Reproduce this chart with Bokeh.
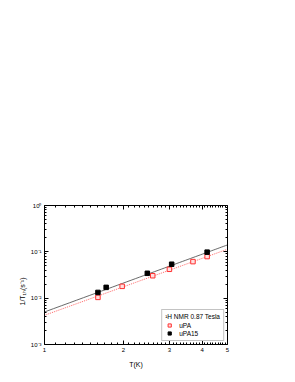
from bokeh.plotting import figure
from bokeh.models import (FixedTicker, LogAxis, CustomJSTickFormatter, Legend, LegendItem,
                          Range1d, Title)
from bokeh.embed import file_html
from bokeh.resources import INLINE
import numpy as np

# data
T_uPA = [1.60, 1.98, 2.59, 3.00, 3.69, 4.18]
R_uPA = [0.0104, 0.0180, 0.0305, 0.042, 0.0615, 0.079]
T_uPA15 = [1.60, 1.72, 2.47, 3.06, 4.18]
R_uPA15 = [0.0133, 0.0171, 0.0344, 0.054, 0.0985]
# power-law fits A*T^n
fit_uPA = (0.00427, 2.04)
fit_uPA15 = (0.00504, 2.07)
x_ticks = [1, 2, 3, 4, 5]
y_ticks = [0.001, 0.01, 0.1, 1]

FONT = "Liberation Sans"

p = figure(width=279, height=374, x_axis_type="log", y_axis_type="log",
           x_range=Range1d(1, 5), y_range=Range1d(0.001, 1),
           output_backend="svg", toolbar_location=None,
           min_border_left=44, min_border_right=52, min_border_top=205, min_border_bottom=30)
p.frame_width = 183
p.frame_height = 139
p.xgrid.visible = False
p.ygrid.visible = False
p.outline_line_color = None
p.background_fill_color = "white"
p.border_fill_color = "white"

minor_x = [round(v, 2) for v in np.arange(1.1, 5.0, 0.1)]
minor_y = [m * 10.0 ** e for e in range(-3, 0) for m in range(2, 10)]

yfmt = CustomJSTickFormatter(code="""
const sup = {'-':'\u207b','0':'\u2070','1':'\u00b9','2':'\u00b2','3':'\u00b3'};
const e = Math.round(Math.log10(tick)).toString();
return '10' + e.split('').map(c => sup[c]).join('');
""")

def style(ax, labels=True):
    ax.major_tick_in = 4
    ax.major_tick_out = 0
    ax.minor_tick_in = 2
    ax.minor_tick_out = 0
    ax.axis_line_color = "black"
    ax.major_tick_line_color = "black"
    ax.minor_tick_line_color = "black"
    ax.major_label_text_font = FONT
    ax.major_label_text_font_size = "6px"
    ax.major_label_text_color = "black"
    if not labels:
        ax.major_label_text_alpha = 0
    ax.major_label_standoff = 3
    ax.axis_label_text_font = FONT
    ax.axis_label_text_font_size = "7px"
    ax.axis_label_text_color = "black"
    ax.axis_label_text_font_style = "normal"

p.xaxis.ticker = FixedTicker(ticks=x_ticks, minor_ticks=minor_x)
p.yaxis.ticker = FixedTicker(ticks=y_ticks, minor_ticks=minor_y)
p.yaxis.formatter = yfmt
p.xaxis.axis_label = "T(K)"
p.xaxis.axis_label_standoff = 6
for ax in p.xaxis + p.yaxis:
    style(ax)

ytitle = Title(text="1/T\u2081\u2095(s\u207b\u00b9)", align="left", offset=39,
               text_font=FONT, text_font_size="7px", text_font_style="normal",
               text_color="black", standoff=3)
p.add_layout(ytitle, "left")

top = LogAxis(ticker=FixedTicker(ticks=x_ticks, minor_ticks=minor_x))
right = LogAxis(ticker=FixedTicker(ticks=y_ticks, minor_ticks=minor_y))
style(top, labels=False)
style(right, labels=False)
p.add_layout(top, "above")
p.add_layout(right, "right")

tt = np.linspace(1, 5, 50)
p.line(tt, fit_uPA15[0] * tt ** fit_uPA15[1], line_color="#444444", line_width=0.8)
p.line(tt, fit_uPA[0] * tt ** fit_uPA[1], line_color="#ff4040", line_width=0.8, line_dash="1 1")

s0 = p.scatter(T_uPA, R_uPA, marker="square", size=4.5, line_color="#ff3030",
               fill_color="#ffe0e0", line_width=1)
s15 = p.scatter(T_uPA15, R_uPA15, marker="square", size=4.5, line_color="black",
                fill_color="black")

legend = Legend(items=[LegendItem(label="uPA", renderers=[s0]),
                       LegendItem(label="uPA15", renderers=[s15])],
                location="bottom_right", title="\u00b9H NMR 0.87 Tesla")
legend.title_text_font = FONT
legend.title_text_font_size = "6.5px"
legend.title_text_font_style = "normal"
legend.title_text_color = "black"
legend.title_standoff = 1
legend.label_text_font = FONT
legend.label_text_font_size = "6.5px"
legend.label_text_color = "black"
legend.label_height = 8
legend.glyph_height = 8
legend.glyph_width = 8
legend.label_standoff = 6
legend.spacing = 0
legend.padding = 3
legend.margin = 3
legend.border_line_color = "#888888"
legend.border_line_width = 1
legend.background_fill_alpha = 1
p.add_layout(legend, "center")

open("out.html", "w").write(file_html(p, INLINE))
